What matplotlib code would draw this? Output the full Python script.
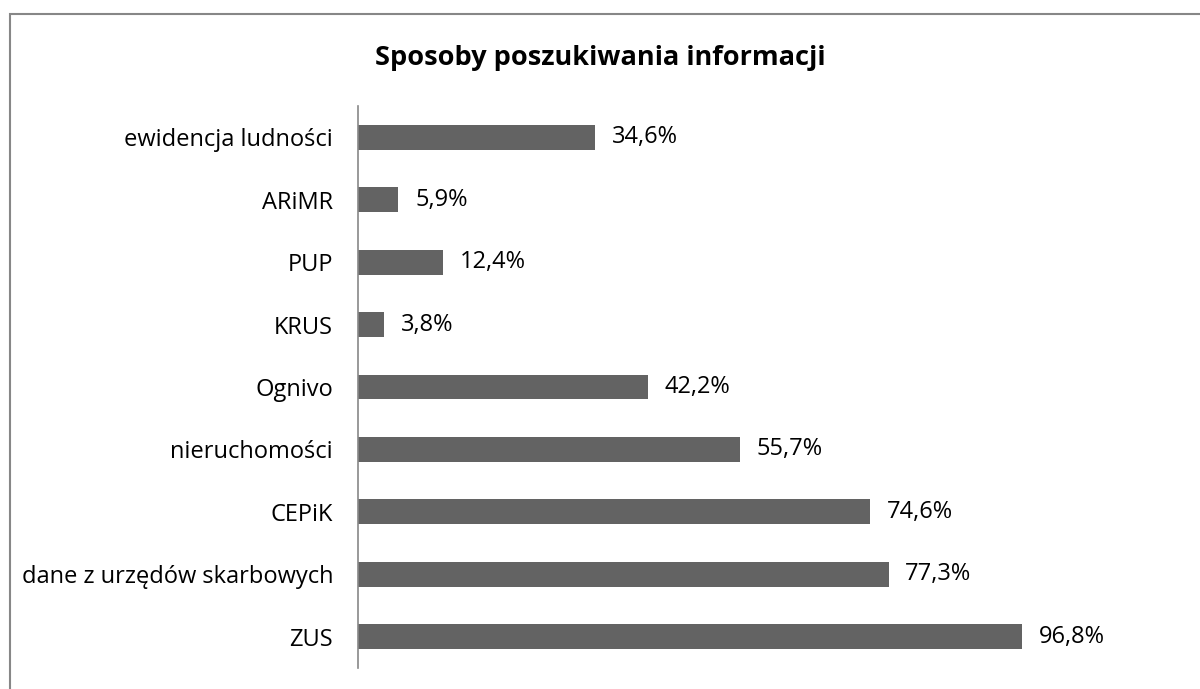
import matplotlib.pyplot as plt
from matplotlib.patches import Rectangle

categories = ['ewidencja ludności', 'ARiMR', 'PUP', 'KRUS', 'Ognivo',
              'nieruchomości', 'CEPiK', 'dane z urzędów skarbowych', 'ZUS']
values = [34.6, 5.9, 12.4, 3.8, 42.2, 55.7, 74.6, 77.3, 96.8]
title = 'Sposoby poszukiwania informacji'

plt.rcParams['font.family'] = ['Open Sans', 'DejaVu Sans']

W, H = 1200, 689
fig = plt.figure(figsize=(12, 6.89), dpi=100)

# outer chart frame (cut off at right and bottom)
fig.patches.append(Rectangle((10 / W, -0.1), 1.2, 1 - 14 / H + 0.1,
                             transform=fig.transFigure, fill=False,
                             edgecolor='#878787', linewidth=1.5))

ax = fig.add_axes([358 / W, 1 - 668 / H, 755 / W, 562 / H])
y = list(range(len(categories)))[::-1]
ax.barh(y, values, height=0.4, color='#636363')
ax.set_xlim(0, 110)
ax.set_ylim(-0.5, len(categories) - 0.5)
ax.set_yticks(y)
ax.set_yticklabels(categories, fontsize=17)
ax.tick_params(axis='y', length=0, pad=18)
ax.set_xticks([])
for s in ['top', 'right', 'bottom']:
    ax.spines[s].set_visible(False)
ax.spines['left'].set_color('#888888')
ax.spines['left'].set_linewidth(1.2)

for yi, v in zip(y, values):
    ax.annotate(f'{v:.1f}%'.replace('.', ','), (v, yi), xytext=(12, 0),
                textcoords='offset points', va='center', ha='left', fontsize=17)

fig.text(0.5, 1 - 58 / H, title, ha='center', va='center',
         fontsize=19.5, fontweight='bold')

fig.savefig('out.png', dpi=100)
